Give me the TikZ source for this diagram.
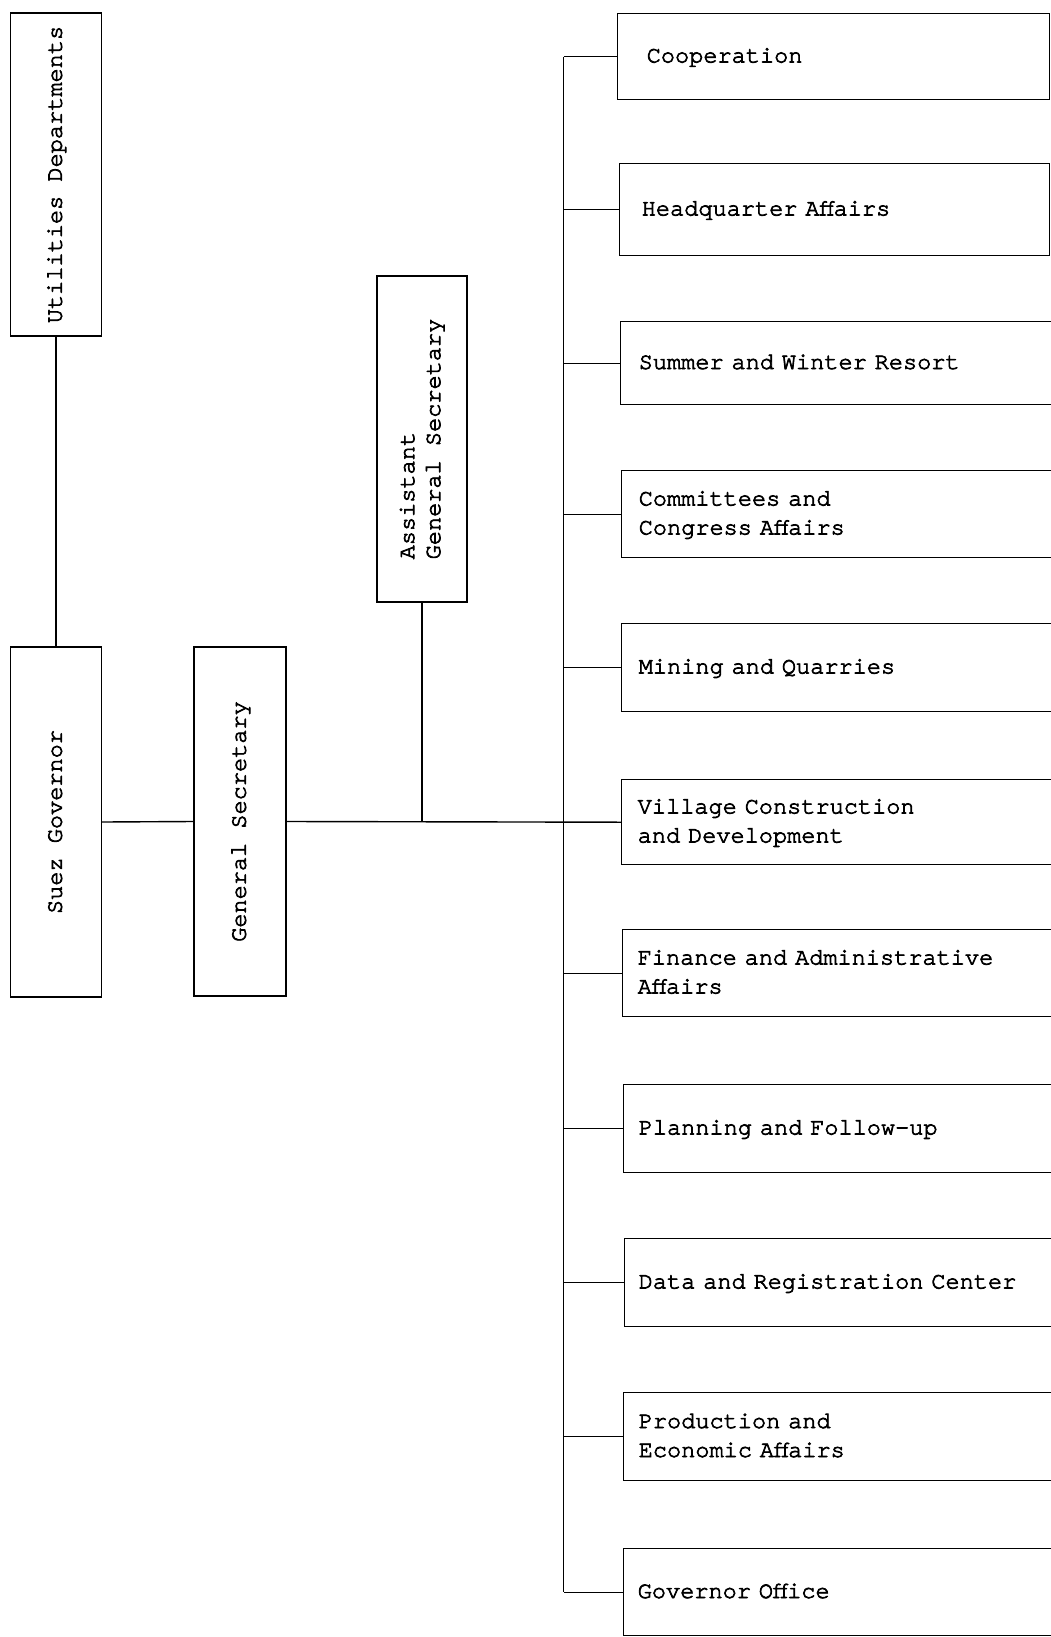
\documentclass[tikz,border=0pt]{standalone}
\usepackage{fontspec}
% Typewriter face for all labels, 10-pitch
\newfontfamily\typewriter{texgyrecursor-regular.otf}[FakeBold=3]
\newcommand\labelfont{\typewriter\fontsize{23.6}{29}\selectfont}
% Department labels: one full character cell between words
\newcommand\deptfont{\labelfont\spaceskip=14.4pt\relax}
% Label lines set as boxes
\newcommand\lines[1]{\begin{tabular}{@{}l@{}}#1\end{tabular}}
\begin{document}
\begin{tikzpicture}[x=1pt, y=-1pt,
  box/.style={draw, rectangle, line width=1.4pt, inner sep=0pt, font=\labelfont},
  vbox/.style={box},
  dept/.style={box, font=\deptfont, anchor=north west, align=left, inner ysep=0pt},
  link/.style={line width=1.4pt}]
\useasboundingbox (0,0) rectangle (1051,1637);
\begin{scope}
\clip (0,0) rectangle (1051,1637);

% Left-hand chain of command
\node[vbox, minimum width=91pt, minimum height=323pt] (util) at (56,174.5)
  {\rotatebox{90}{\lines{Utilities Departments}}};
\node[vbox, minimum width=91pt, minimum height=350pt] (suez) at (56,822)
  {\rotatebox{90}{\lines{Suez Governor}}};
\node[vbox, minimum width=92pt, minimum height=349pt] (gs) at (240,821.5)
  {\rotatebox{90}{\lines{General Secretary}}};
\node[vbox, minimum width=90pt, minimum height=326pt] (asg) at (422,439)
  {\rotatebox{90}{\fontsize{23.6}{26}\selectfont\lines{Assistant\\General Secretary}}};

% Departments on the right
\node[dept, minimum height=86pt, text width=374pt, inner xsep=29pt] (coop) at (617,13) {\lines{Cooperation}};
\node[dept, minimum height=92pt, text width=386pt, inner xsep=22pt] (hq) at (619,163) {\lines{Headquarter Affairs}};
\node[dept, minimum height=83pt, text width=419pt, inner xsep=18pt] (resort) at (620,321) {\lines{Summer and Winter Resort}};
\node[dept, minimum height=87pt, text width=420pt, inner xsep=17pt] (comm) at (621,470) {\lines{Committees and\\Congress Affairs}};
\node[dept, minimum height=88pt, text width=420pt, inner xsep=17pt] (mine) at (621,623) {\lines{Mining and Quarries}};
\node[dept, minimum height=85pt, text width=422pt, inner xsep=16pt] (vil) at (621,779) {\lines{Village Construction\\and Development}};
\node[dept, minimum height=87pt, text width=423pt, inner xsep=15pt] (fin) at (622,929) {\lines{Finance and Administrative\\Affairs}};
\node[dept, minimum height=88pt, text width=422pt, inner xsep=15pt] (plan) at (623,1084) {\lines{Planning and Follow-up}};
\node[dept, minimum height=88pt, text width=423pt, inner xsep=14pt] (data) at (624,1238) {\lines{Data and Registration Center}};
\node[dept, minimum height=88pt, text width=422pt, inner xsep=15pt] (prod) at (623,1392) {\lines{Production and\\Economic Affairs}};
\node[dept, minimum height=87pt, text width=424pt, inner xsep=14pt] (gov) at (623,1548) {\lines{Governor Office}};

% Connectors
\coordinate (trunk) at (563.5,0);
\draw[link] (util.south) -- (suez.north);
\draw[link] (suez.east) -- (gs.west);
\draw[link] (gs.east) -- (vil.west);
\draw[link] (asg.south) -- (asg.south |- gs.east);
\draw[link] (coop.west -| trunk) -- (gov.west -| trunk);
\foreach \d in {coop,hq,resort,comm,mine,fin,plan,data,prod,gov}
  \draw[link] (\d.west) -- (\d.west -| trunk);
\end{scope}
\end{tikzpicture}
\end{document}
